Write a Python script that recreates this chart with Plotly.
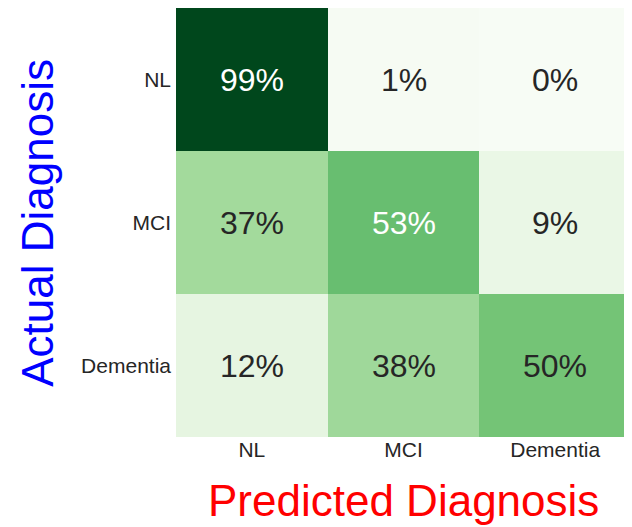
import plotly.graph_objects as go

predicted = ["NL", "MCI", "Dementia"]
actual = ["NL", "MCI", "Dementia"]
percent = [
    [99, 1, 0],
    [37, 53, 9],
    [12, 38, 50],
]
x_title = "Predicted Diagnosis"
y_title = "Actual Diagnosis"

FONT = "Liberation Sans, Arial, sans-serif"

fig = go.Figure(
    go.Heatmap(
        z=percent,
        x=predicted,
        y=actual,
        colorscale="Greens",
        zmin=0,
        zmax=100,
        showscale=False,
        hoverinfo="skip",
    )
)

for i, row_name in enumerate(actual):
    for j, col_name in enumerate(predicted):
        v = percent[i][j]
        fig.add_annotation(
            x=col_name, y=row_name, xref="x", yref="y",
            text=f"{v}%", showarrow=False,
            font=dict(family=FONT, size=32, color="white" if v > 51 else "#262626"),
        )

fig.add_annotation(
    x=0.5, y=-0.147, xref="paper", yref="paper", xanchor="center", yanchor="middle",
    text=x_title, showarrow=False,
    font=dict(family=FONT, size=44, color="#ff0000"),
)
fig.add_annotation(
    x=-0.305, y=0.5, xref="paper", yref="paper", xanchor="center", yanchor="middle",
    text=y_title, showarrow=False, textangle=-90,
    font=dict(family=FONT, size=44, color="#0000ff"),
)

fig.update_xaxes(
    showgrid=False, zeroline=False, showline=False, ticks="",
    tickfont=dict(family=FONT, size=21, color="#262626"),
    side="bottom",
    ticklabelstandoff=-2,
)
fig.update_yaxes(
    showgrid=False, zeroline=False, showline=False, ticks="",
    autorange="reversed",
    tickfont=dict(family=FONT, size=21, color="#262626"),
    ticklabelstandoff=4,
)

fig.update_layout(
    width=624, height=519,
    margin=dict(l=168, r=1, t=0, b=90, autoexpand=False),
    paper_bgcolor="white", plot_bgcolor="white",
    showlegend=False,
)

fig.write_html("out.html")
